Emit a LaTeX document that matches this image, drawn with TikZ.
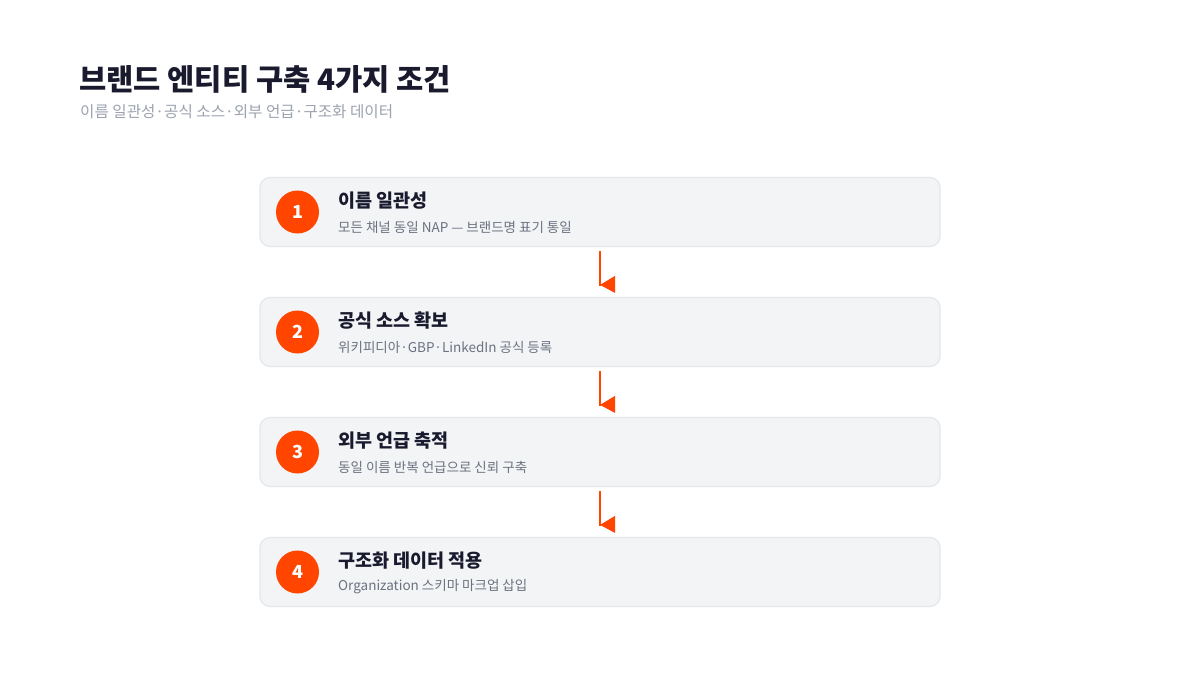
\documentclass[tikz,border=0pt]{standalone}
\usepackage{fontspec}
\setmainfont{Noto Sans CJK KR}
\usetikzlibrary{calc}
\definecolor{ink}{HTML}{1A1A2E}
\definecolor{subgray}{HTML}{9CA3AF}
\definecolor{descgray}{HTML}{6B7280}
\definecolor{boxfill}{HTML}{F3F4F6}
\definecolor{boxline}{HTML}{E5E7EB}
\definecolor{accent}{HTML}{FF4500}
\tikzset{
  stepbox/.style={draw=boxline, line width=1.2pt, fill=boxfill, rounded corners=10pt,
    minimum width=680pt, minimum height=69pt, inner sep=0pt},
  numdot/.style={circle, fill=accent, minimum size=43pt, inner sep=0pt,
    text=white, font=\fontsize{18}{18}\selectfont\bfseries},
  steptitle/.style={anchor=west, inner sep=0pt, text=ink, font=\fontsize{18.5}{18.5}\selectfont\bfseries},
  stepdesc/.style={anchor=west, inner sep=0pt, text=descgray, font=\fontsize{13.5}{13.5}\selectfont},
  link/.style={draw=accent, line width=2pt},
  linkhead/.style={fill=accent, draw=none}
}
\begin{document}
\begin{tikzpicture}[x=1pt,y=-1pt]
\useasboundingbox[fill=white] (0,0) rectangle (1200,675);
\node[anchor=west, inner sep=0pt, text=ink, font=\fontsize{29.6}{29.6}\selectfont\bfseries] (title) at (79,79) {브랜드 엔티티 구축 4가지 조건};
\node[anchor=west, inner sep=0pt, text=subgray, font=\fontsize{15.6}{15.6}\selectfont] (subtitle) at (80,112) {이름 일관성·공식 소스·외부 언급·구조화 데이터};

\foreach \i/\t/\d in {1/이름 일관성/모든 채널 동일 NAP — 브랜드명 표기 통일,
                      2/공식 소스 확보/위키피디아·GBP·LinkedIn 공식 등록,
                      3/외부 언급 축적/동일 이름 반복 언급으로 신뢰 구축,
                      4/구조화 데이터 적용/Organization 스키마 마크업 삽입}{
  \pgfmathsetmacro{\yc}{212+(\i-1)*120}
  \node[stepbox] (b\i) at (600,\yc) {};
  \node[numdot] (n\i) at (297.5,\yc) {\i};
  \node[steptitle] (t\i) at (338,\yc-11) {\t};
  \node[stepdesc] (d\i) at (338,\yc+15) {\d};
}

\foreach \a/\b in {1/2,2/3,3/4}{
  \draw[link] ($(b\a.south)+(0,4)$) -- ($(b\b.north)+(0,-11)$);
  \fill[linkhead] ($(b\b.north)+(0,-12)$) -- ($(b\b.north)+(15,-21)$) -- ($(b\b.north)+(15,-4)$) -- cycle;
}
\end{tikzpicture}
\end{document}
